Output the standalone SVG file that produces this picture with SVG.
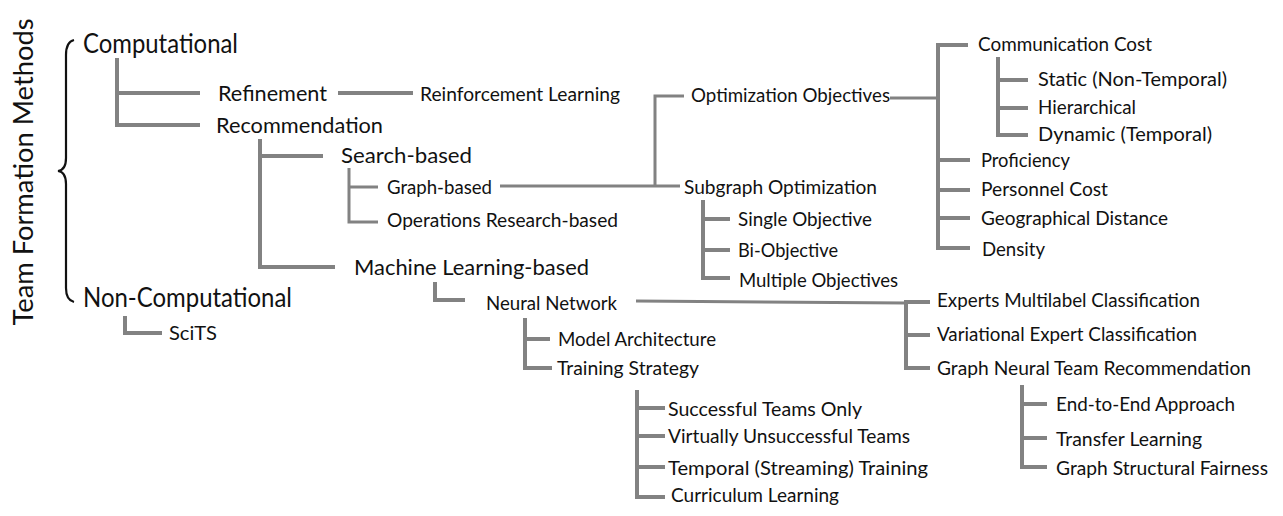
<svg xmlns="http://www.w3.org/2000/svg" width="1283" height="516" viewBox="0 0 1283 516">
<style>
text{font-family:Lato,"Noto Sans","Liberation Sans",sans-serif;fill:#111}
.t1{font-size:26px}
.t2{font-size:22px}
.t3{font-size:19.5px}
.c{fill:none;stroke:#828282;stroke-width:4}
.cn{fill:none;stroke:#828282;stroke-width:3}
</style>
<rect width="1283" height="516" fill="#fff"/>
<g id="title">
<text class="t1" transform="translate(33,172) rotate(-90)" text-anchor="middle" textLength="307" lengthAdjust="spacingAndGlyphs" font-size="27">Team Formation Methods</text>
<path d="M74,40 Q66,42 66,55 L66,158 Q66,170 58,171 Q66,172 66,184 L66,288 Q66,300 74,302" fill="none" stroke="#111" stroke-width="2.2"/>
</g>
<g id="connectors">
<path class="c" d="M117,58 V125 H200 M117,93 H200"/>
<path class="c" d="M338,93 H413"/>
<path class="c" d="M260,139 V267 H335 M260,156 H323"/>
<path class="cn" d="M349,168 V222 H378 M349,187 H378"/>
<path class="cn" d="M500,186 H680 M655,186 V96 H684"/>
<path class="cn" d="M890,98 H938"/>
<path class="c" d="M968,45 H938 V248 H970 M938,160 H970 M938,190 H970 M938,218 H970"/>
<path class="c" d="M998,57 V135 H1028 M998,80 H1028 M998,108 H1028"/>
<path class="c" d="M703,200 V278 H730 M703,219 H730 M703,250 H730"/>
<path class="c" d="M435,282 V300 H465"/>
<path class="cn" d="M636,301 L906,303"/>
<path class="c" d="M930,302 H906 V368 H930 M906,335 H930"/>
<path class="c" d="M1022,385 V467 H1047 M1022,404 H1047 M1022,438 H1047"/>
<path class="c" d="M525,318 V368 H552 M525,339 H550"/>
<path class="c" d="M637,390 V497 H665 M637,408 H665 M637,436 H665 M637,467 H665"/>
<path class="c" d="M125,316 V333 H162"/>
</g>
<g id="n-computational"><text class="t1" x="83" y="53" textLength="155" lengthAdjust="spacingAndGlyphs">Computational</text></g>
<g id="n-noncomputational"><text class="t1" x="83" y="307" textLength="209" lengthAdjust="spacingAndGlyphs">Non-Computational</text></g>
<g id="n-scits"><text class="t3" x="169" y="340" textLength="48" lengthAdjust="spacingAndGlyphs">SciTS</text></g>
<g id="n-refinement"><text class="t2" x="218" y="101" textLength="109" lengthAdjust="spacingAndGlyphs">Refinement</text></g>
<g id="n-recommendation"><text class="t2" x="216" y="133" textLength="167" lengthAdjust="spacingAndGlyphs">Recommendation</text></g>
<g id="n-rl"><text class="t3" x="420" y="101" textLength="200" lengthAdjust="spacingAndGlyphs">Reinforcement Learning</text></g>
<g id="n-search"><text class="t2" x="341" y="163" textLength="131" lengthAdjust="spacingAndGlyphs">Search-based</text></g>
<g id="n-ml"><text class="t2" x="354" y="275" textLength="235" lengthAdjust="spacingAndGlyphs">Machine Learning-based</text></g>
<g id="n-graph"><text class="t3" x="387" y="194" textLength="105" lengthAdjust="spacingAndGlyphs">Graph-based</text></g>
<g id="n-or"><text class="t3" x="387" y="227" textLength="231" lengthAdjust="spacingAndGlyphs">Operations Research-based</text></g>
<g id="n-optobj"><text class="t3" x="691" y="102" textLength="199" lengthAdjust="spacingAndGlyphs">Optimization Objectives</text></g>
<g id="n-subgraph"><text class="t3" x="684" y="194" textLength="193" lengthAdjust="spacingAndGlyphs">Subgraph Optimization</text></g>
<g id="n-single"><text class="t3" x="738" y="226" textLength="134" lengthAdjust="spacingAndGlyphs">Single Objective</text></g>
<g id="n-bi"><text class="t3" x="738" y="257" textLength="100" lengthAdjust="spacingAndGlyphs">Bi-Objective</text></g>
<g id="n-multi"><text class="t3" x="739" y="287" textLength="159" lengthAdjust="spacingAndGlyphs">Multiple Objectives</text></g>
<g id="n-comm"><text class="t3" x="978" y="51" textLength="174" lengthAdjust="spacingAndGlyphs">Communication Cost</text></g>
<g id="n-static"><text class="t3" x="1038" y="86" textLength="189" lengthAdjust="spacingAndGlyphs">Static (Non-Temporal)</text></g>
<g id="n-hier"><text class="t3" x="1038" y="114" textLength="98" lengthAdjust="spacingAndGlyphs">Hierarchical</text></g>
<g id="n-dynamic"><text class="t3" x="1038" y="141" textLength="174" lengthAdjust="spacingAndGlyphs">Dynamic (Temporal)</text></g>
<g id="n-prof"><text class="t3" x="981" y="167" textLength="89" lengthAdjust="spacingAndGlyphs">Proficiency</text></g>
<g id="n-personnel"><text class="t3" x="981" y="196" textLength="127" lengthAdjust="spacingAndGlyphs">Personnel Cost</text></g>
<g id="n-geo"><text class="t3" x="981" y="225" textLength="187" lengthAdjust="spacingAndGlyphs">Geographical Distance</text></g>
<g id="n-density"><text class="t3" x="982" y="256" textLength="63" lengthAdjust="spacingAndGlyphs">Density</text></g>
<g id="n-nn"><text class="t3" x="486" y="310" textLength="131" lengthAdjust="spacingAndGlyphs">Neural Network</text></g>
<g id="n-model"><text class="t3" x="558" y="346" textLength="158" lengthAdjust="spacingAndGlyphs">Model Architecture</text></g>
<g id="n-training"><text class="t3" x="557" y="375" textLength="142" lengthAdjust="spacingAndGlyphs">Training Strategy</text></g>
<g id="n-succ"><text class="t3" x="668" y="416" textLength="194" lengthAdjust="spacingAndGlyphs">Successful Teams Only</text></g>
<g id="n-virt"><text class="t3" x="668" y="443" textLength="242" lengthAdjust="spacingAndGlyphs">Virtually Unsuccessful Teams</text></g>
<g id="n-temp"><text class="t3" x="668" y="475" textLength="260" lengthAdjust="spacingAndGlyphs">Temporal (Streaming) Training</text></g>
<g id="n-curr"><text class="t3" x="671" y="502" textLength="168" lengthAdjust="spacingAndGlyphs">Curriculum Learning</text></g>
<g id="n-experts"><text class="t3" x="937" y="307" textLength="263" lengthAdjust="spacingAndGlyphs">Experts Multilabel Classification</text></g>
<g id="n-var"><text class="t3" x="937" y="341" textLength="260" lengthAdjust="spacingAndGlyphs">Variational Expert Classification</text></g>
<g id="n-gntr"><text class="t3" x="937" y="375" textLength="314" lengthAdjust="spacingAndGlyphs">Graph Neural Team Recommendation</text></g>
<g id="n-e2e"><text class="t3" x="1056" y="411" textLength="179" lengthAdjust="spacingAndGlyphs">End-to-End Approach</text></g>
<g id="n-transfer"><text class="t3" x="1056" y="446" textLength="146" lengthAdjust="spacingAndGlyphs">Transfer Learning</text></g>
<g id="n-fair"><text class="t3" x="1056" y="475" textLength="212" lengthAdjust="spacingAndGlyphs">Graph Structural Fairness</text></g>
</svg>
